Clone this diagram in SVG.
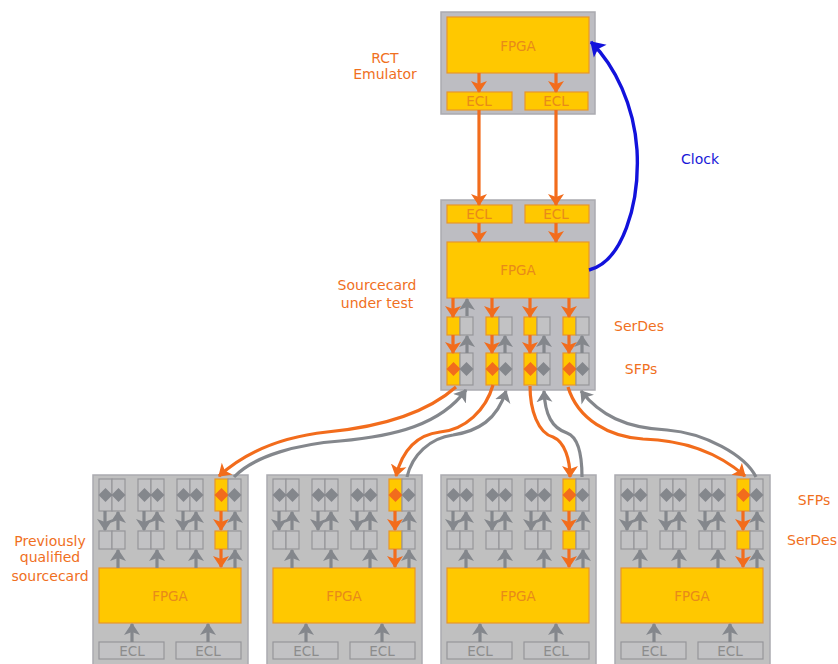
<svg xmlns="http://www.w3.org/2000/svg" width="838" height="664" viewBox="0 0 838 664">
<style>
text{font-family:"DejaVu Sans","Liberation Sans",sans-serif;font-size:14px;text-anchor:middle;fill:#F0701E}
.in{fill:#E88A1A;font-size:13.5px}
.gt{fill:#8C8C8C;font-size:13.5px}
.blue{fill:#1818D8}
.box{fill:#BDBDC2;stroke:#ABABB0;stroke-width:1.5}
.y{fill:#FFC800;stroke:#E8962A;stroke-width:1.2}
.g{fill:#C2C2C4;stroke:#96969A;stroke-width:1.2}
.o{fill:none;stroke:#F26C1C;stroke-width:3.2}
.a{fill:none;stroke:#84878C;stroke-width:3.2}
.b{fill:none;stroke:#1212DC;stroke-width:3.4}
.oe{marker-end:url(#mo)}
.ae{marker-end:url(#ma)}
</style>
<defs>
<marker id="mo" markerUnits="userSpaceOnUse" markerWidth="18" markerHeight="18" refX="11" refY="9" orient="auto"><path d="M0 1L12 9L0 17L3 9z" fill="#F26C1C"/></marker>
<marker id="ma" markerUnits="userSpaceOnUse" markerWidth="18" markerHeight="18" refX="11" refY="9" orient="auto"><path d="M0 1L12 9L0 17L3 9z" fill="#84878C"/></marker>
<marker id="mb" markerUnits="userSpaceOnUse" markerWidth="20" markerHeight="20" refX="13" refY="10" orient="auto"><path d="M0 1L14 10L0 19L3 10z" fill="#1212DC"/></marker>
<path id="do" d="M-7 0L0-7L7 0L0 7z" fill="#F26C1C"/>
<path id="da" d="M-7 0L0-7L7 0L0 7z" fill="#84878C"/>
<g id="gsfp"><rect class="g" x="0" y="0" width="13" height="32"/><rect class="g" x="13" y="0" width="13" height="32"/><use href="#da" x="6.5" y="16"/><use href="#da" x="19.5" y="16"/></g>
<g id="gser"><rect class="g" x="0" y="0" width="13" height="18"/><rect class="g" x="13" y="0" width="13" height="18"/></g>
<g id="osfp"><rect class="y" x="0" y="0" width="13" height="32"/><rect class="g" x="13" y="0" width="13" height="32"/><use href="#do" x="6.5" y="16"/><use href="#da" x="19.5" y="16"/></g>
<g id="oser"><rect class="y" x="0" y="0" width="13" height="18"/><rect class="g" x="13" y="0" width="13" height="18"/></g>
<g id="cardbase">
<rect class="box" style="fill:#C0C0C0" x="93" y="475" width="155" height="190"/>
<use href="#gsfp" x="99" y="479"/><use href="#gsfp" x="138" y="479"/><use href="#gsfp" x="177" y="479"/><use href="#osfp" x="215" y="479"/>
<use href="#gser" x="99" y="531"/><use href="#gser" x="138" y="531"/><use href="#gser" x="177" y="531"/><use href="#oser" x="215" y="531"/>
<rect class="y" x="99" y="568" width="142" height="55"/>
<rect class="g" x="99" y="642" width="65" height="17"/><rect class="g" x="176" y="642" width="65" height="17"/>
</g>
<g id="cardarrows">
<path class="a ae" d="M105 511V530"/><path class="a ae" d="M118 530V512"/>
<path class="a ae" d="M144 511V530"/><path class="a ae" d="M157 530V512"/>
<path class="a ae" d="M183 511V530"/><path class="a ae" d="M196 530V512"/>
<path class="o oe" d="M221 511V530"/><path class="a ae" d="M235 530V512"/>
<path class="a ae" d="M118 568V550"/><path class="a ae" d="M157 568V550"/><path class="a ae" d="M196 568V550"/>
<path class="o oe" d="M221 549V567"/><path class="a ae" d="M235 568V550"/>
<path class="a ae" d="M132 642V624"/><path class="a ae" d="M208 642V624"/>
</g>
</defs>
<rect width="838" height="664" fill="#fff"/>

<g id="rct">
<rect class="box" x="441" y="12" width="154" height="102"/>
<rect class="y" x="447" y="17" width="142" height="56"/>
<text class="in" x="518" y="51">FPGA</text>
<rect class="y" x="447" y="92" width="65" height="18"/><text class="in" x="479" y="106">ECL</text>
<rect class="y" x="525" y="92" width="63" height="18"/><text class="in" x="556" y="106">ECL</text>
</g>

<g id="sourcecard">
<rect class="box" x="441" y="200" width="154" height="190"/>
<rect class="y" x="447" y="205" width="65" height="18"/><text class="in" x="479" y="219">ECL</text>
<rect class="y" x="525" y="205" width="64" height="18"/><text class="in" x="556" y="219">ECL</text>
<rect class="y" x="447" y="242" width="142" height="56"/><text class="in" x="518" y="275">FPGA</text>
<use href="#oser" x="447" y="317"/><use href="#oser" x="486" y="317"/><use href="#oser" x="524" y="317"/><use href="#oser" x="563" y="317"/>
<use href="#osfp" x="447" y="353"/><use href="#osfp" x="486" y="353"/><use href="#osfp" x="524" y="353"/><use href="#osfp" x="563" y="353"/>
</g>

<g id="card1"><use href="#cardbase"/><text class="in" x="170" y="601">FPGA</text><text class="gt" x="132" y="656">ECL</text><text class="gt" x="208" y="656">ECL</text></g>
<g id="card2" transform="translate(174 0)"><use href="#cardbase"/><text class="in" x="170" y="601">FPGA</text><text class="gt" x="132" y="656">ECL</text><text class="gt" x="208" y="656">ECL</text></g>
<g id="card3" transform="translate(348 0)"><use href="#cardbase"/><text class="in" x="170" y="601">FPGA</text><text class="gt" x="132" y="656">ECL</text><text class="gt" x="208" y="656">ECL</text></g>
<g id="card4" transform="translate(522 0)"><use href="#cardbase"/><text class="in" x="170" y="601">FPGA</text><text class="gt" x="132" y="656">ECL</text><text class="gt" x="208" y="656">ECL</text></g>

<g id="connectors">
<path class="o oe" d="M479 73V92"/><path class="o oe" d="M556 73V92"/>
<path class="o oe" d="M479 110V205"/><path class="o oe" d="M556 110V205"/>
<path class="o oe" d="M479 223V242"/><path class="o oe" d="M556 223V242"/>
<path class="o oe" d="M453 298V317"/><path class="o oe" d="M492 298V317"/><path class="o oe" d="M530 298V317"/><path class="o oe" d="M569 298V317"/>
<path class="a ae" d="M467 316V299"/>
<path class="o oe" d="M453 335V353"/><path class="o oe" d="M492 335V353"/><path class="o oe" d="M530 335V353"/><path class="o oe" d="M569 335V353"/>
<path class="a ae" d="M467 353V336"/><path class="a ae" d="M505 353V336"/><path class="a ae" d="M544 353V336"/><path class="a ae" d="M582 353V336"/>
<path class="b" style="marker-end:url(#mb)" d="M589 270C622 262 640 205 637 150C634 105 615 66 591 42"/>
<path class="o oe" d="M456 387C430 410 390 426 327 432C290 436 250 448 219 476"/>
<path class="a ae" d="M234 477C255 455 300 444 340 441C395 436 440 425 466 390"/>
<path class="o oe" d="M493 385C486 410 465 430 440 432C415 435 402 452 396 476"/>
<path class="a ae" d="M407 477C412 455 430 438 453 435C478 431 497 420 506 391"/>
<path class="o oe" d="M530 386C530 410 538 433 553 437C565 442 570 460 570 477"/>
<path class="a ae" d="M582 477C582 455 578 437 567 433C552 428 545 415 544 391"/>
<path class="o oe" d="M568 387C578 420 610 437 643 439C680 440 715 450 745 476"/>
<path class="a ae" d="M756 477C745 455 705 433 667 430C625 428 600 415 581 391"/>
<use href="#cardarrows"/>
<use href="#cardarrows" transform="translate(174 0)"/>
<use href="#cardarrows" transform="translate(348 0)"/>
<use href="#cardarrows" transform="translate(522 0)"/>
</g>

<g id="labels">
<text x="385" y="63">RCT</text><text x="385" y="79">Emulator</text>
<text class="blue" x="700" y="164">Clock</text>
<text x="377" y="290">Sourcecard</text><text x="377" y="308">under test</text>
<text x="639" y="331">SerDes</text><text x="641" y="374">SFPs</text>
<text x="814" y="505">SFPs</text><text x="812" y="545">SerDes</text>
<text x="50" y="546">Previously</text><text x="50" y="562">qualified</text><text x="50" y="581">sourcecard</text>
</g>
</svg>
